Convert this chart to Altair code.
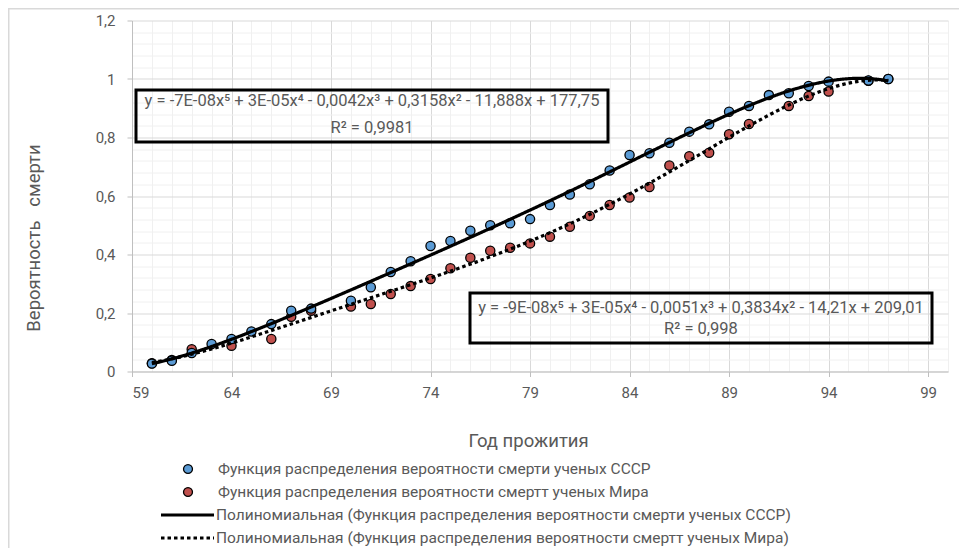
import altair as alt
import pandas as pd

# ---------------- data ----------------
ussr_x = [60, 61, 62, 63, 64, 65, 66, 67, 68, 70, 71, 72, 73, 74, 75, 76, 77, 78, 79,
          80, 81, 82, 83, 84, 85, 86, 87, 88, 89, 90, 91, 92, 93, 94, 96, 97]
ussr_y = [0.027, 0.037, 0.063, 0.094, 0.111, 0.137, 0.162, 0.208, 0.215, 0.242, 0.288,
          0.340, 0.377, 0.429, 0.446, 0.481, 0.500, 0.507, 0.521, 0.569, 0.605, 0.640,
          0.687, 0.740, 0.746, 0.782, 0.820, 0.845, 0.888, 0.908, 0.945, 0.951, 0.976,
          0.991, 0.995, 1.000]

world_x = [60, 61, 62, 64, 66, 67, 68, 70, 71, 72, 73, 74, 75, 76, 77, 78, 79, 80, 81,
           82, 83, 84, 85, 86, 87, 88, 89, 90, 92, 93, 94, 96, 97]
world_y = [0.028, 0.039, 0.076, 0.088, 0.111, 0.187, 0.208, 0.222, 0.231, 0.265, 0.292,
           0.316, 0.353, 0.389, 0.413, 0.423, 0.438, 0.461, 0.495, 0.532, 0.569, 0.595,
           0.631, 0.704, 0.736, 0.748, 0.811, 0.846, 0.908, 0.942, 0.957, 0.994, 1.000]

S_USSR = "Функция распределения вероятности смерти ученых СССР"
S_WORLD = "Функция распределения вероятности смертт ученых Мира"
T_USSR = "Полиномиальная (Функция распределения вероятности смерти ученых СССР)"
T_WORLD = "Полиномиальная (Функция распределения вероятности смертт ученых Мира)"

EQ_USSR = ["y = -7E-08x⁵ + 3E-05x⁴ - 0,0042x³ + 0,3158x² - 11,888x + 177,75", "R² = 0,9981"]
EQ_WORLD = ["y = -9E-08x⁵ + 3E-05x⁴ - 0,0051x³ + 0,3834x² - 14,21x + 209,01", "R² = 0,998"]

X_TITLE = "Год прожития"
Y_TITLE = "Вероятность\u00a0\u00a0 смерти"

x_ticks = list(range(59, 101))                      # minor every 1, major every 5 from 59
y_ticks = [round(i * 0.04, 2) for i in range(31)]   # minor every 0.04, major every 0.2

# ---------------- styling ----------------
FONT = "Roboto"
TXT = "#595959"
BLUE = "#5B9BD5"
RED = "#C0504D"
W, H = 816, 351

df = pd.concat([
    pd.DataFrame({"x": ussr_x, "y": ussr_y, "series": S_USSR}),
    pd.DataFrame({"x": world_x, "y": world_y, "series": S_WORLD}),
], ignore_index=True)
one = pd.DataFrame({"k": [0]})   # single row for annotations

x_major = "(datum.value - 59) % 5 === 0"
y_major = "abs(datum.value * 5 - round(datum.value * 5)) < 0.000001"

x_axis = alt.Axis(
    values=x_ticks, title=X_TITLE,
    labelExpr=f"{x_major} ? datum.label : ''",
    grid=True,
    gridColor={"condition": {"test": x_major, "value": "#d9d9d9"}, "value": "#f0f0f0"},
    tickColor={"condition": {"test": x_major, "value": "#bfbfbf"}, "value": "transparent"},
    tickSize=5, labelPadding=9, domainColor="#bfbfbf",
    labelFont=FONT, labelFontSize=15, labelColor=TXT,
    titleFont=FONT, titleFontSize=18.5, titleColor=TXT, titleFontWeight="normal",
    titleX=396, titleY=68.5, titleBaseline="middle", titleAlign="center",
)
y_axis = alt.Axis(
    values=y_ticks, title=Y_TITLE,
    labelExpr=f"{y_major} ? replace(format(datum.value, '~g'), '.', ',') : ''",
    grid=True,
    gridColor={"condition": {"test": y_major, "value": "#d9d9d9"}, "value": "#f0f0f0"},
    tickColor={"condition": {"test": y_major, "value": "#bfbfbf"}, "value": "transparent"},
    tickSize=5, labelPadding=12, domainColor="#bfbfbf",
    labelFont=FONT, labelFontSize=15, labelColor=TXT,
    titleFont=FONT, titleFontSize=18.5, titleColor=TXT, titleFontWeight="normal",
    titleX=-99, titleY=217, titleBaseline="middle", titleAlign="center", titleAngle=-90,
)

X = alt.X("x:Q", scale=alt.Scale(domain=[59, 100], nice=False, zero=False), axis=x_axis)
Y = alt.Y("y:Q", scale=alt.Scale(domain=[0, 1.2], nice=False, zero=False), axis=y_axis)

base = alt.Chart(df)

# outer chart frame (only top/left edges are visible in the reference)
frame = alt.Chart(one).mark_rect(fillOpacity=0, stroke="#d9d9d9", strokeWidth=1.5).encode(
    x=alt.value(-123.25), x2=alt.value(W + 60), y=alt.value(-11.75), y2=alt.value(H + 260)
)

points = base.mark_point(filled=True, size=85, stroke="black", strokeWidth=1.3, opacity=1).encode(
    x=X, y=Y,
    fill=alt.Fill("series:N", scale=alt.Scale(domain=[S_USSR, S_WORLD], range=[BLUE, RED]), legend=None),
    order=alt.Order("series:N", sort="descending"),
)

DOT = [3.5, 3]
trend = base.transform_regression(
    "x", "y", method="poly", order=5, groupby=["series"]
).mark_line(color="black", strokeWidth=3.2).encode(
    x=X, y=Y,
    strokeDash=alt.StrokeDash("series:N", scale=alt.Scale(domain=[S_USSR, S_WORLD],
                                                          range=[[1, 0], DOT]), legend=None),
)

layers = [frame, points, trend]

# equation boxes
def box(x0, x1, y0, y1):
    return alt.Chart(one).mark_rect(fillOpacity=0, stroke="black", strokeWidth=3).encode(
        x=alt.value(x0), x2=alt.value(x1), y=alt.value(y0), y2=alt.value(y1))

def label(text, x, y, align="center", size=16.5):
    return alt.Chart(one).mark_text(text=text, font=FONT, fontSize=size, color=TXT,
                                    fontWeight="normal", align=align, baseline="middle").encode(
        x=alt.value(x), y=alt.value(y))

layers += [box(4, 476, 69.5, 121.5), label(EQ_USSR[0], 240, 80), label(EQ_USSR[1], 240, 107.5)]
layers += [box(338, 800, 272.5, 322.5), label(EQ_WORLD[0], 569, 287), label(EQ_WORLD[1], 569, 308.5)]

# legend
LEG = 15.5
leg_rows = [448.5, 471.5, 494.5, 517.5]
for yv, col, txt in [(leg_rows[0], BLUE, S_USSR), (leg_rows[1], RED, S_WORLD)]:
    layers.append(alt.Chart(one).mark_point(shape="circle", filled=True, size=80, fill=col,
                                            stroke="black", strokeWidth=1.3, opacity=1).encode(
        x=alt.value(56), y=alt.value(yv)))
    layers.append(label(txt, 86, yv, align="left", size=LEG))
for yv, dash, txt in [(leg_rows[2], [1, 0], T_USSR), (leg_rows[3], DOT, T_WORLD)]:
    layers.append(alt.Chart(one).mark_rule(color="black", strokeWidth=3.2, strokeDash=dash).encode(
        x=alt.value(29), x2=alt.value(82), y=alt.value(yv)))
    layers.append(label(txt, 84, yv, align="left", size=LEG))

chart = alt.layer(*layers).properties(
    width=W, height=H,
    autosize=alt.AutoSizeParams(type="none"),
    padding={"left": 124, "top": 12.5, "right": 11, "bottom": 176.5},
    background="white",
).configure_view(stroke=None)

chart.save("out.html", embed_options={"renderer": "svg", "actions": False})
